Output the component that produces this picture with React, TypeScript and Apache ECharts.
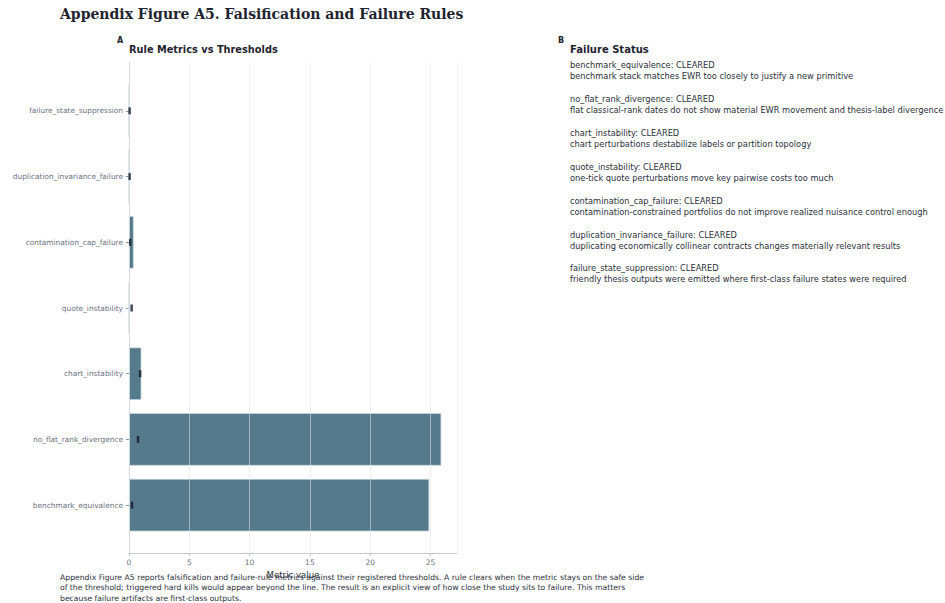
import React, { useEffect, useRef } from 'react';
import * as echarts from 'echarts';

const categories = [
  'benchmark_equivalence',
  'no_flat_rank_divergence',
  'chart_instability',
  'quote_instability',
  'contamination_cap_failure',
  'duplication_invariance_failure',
  'failure_state_suppression',
];
const metricValues = [24.9, 25.9, 1.03, 0.0, 0.39, 0.0, 0.0];
const thresholdValues = [0.25, 0.75, 0.92, 0.22, 0.1, 0.05, 0.05];
const xAxisMax = 27.2;
const xTickInterval = 5;

const statusRules = [
  'benchmark_equivalence',
  'no_flat_rank_divergence',
  'chart_instability',
  'quote_instability',
  'contamination_cap_failure',
  'duplication_invariance_failure',
  'failure_state_suppression',
];
const statusStates = ['CLEARED', 'CLEARED', 'CLEARED', 'CLEARED', 'CLEARED', 'CLEARED', 'CLEARED'];
const statusDescriptions = [
  'benchmark stack matches EWR too closely to justify a new primitive',
  'flat classical-rank dates do not show material EWR movement and thesis-label divergence',
  'chart perturbations destabilize labels or partition topology',
  'one-tick quote perturbations move key pairwise costs too much',
  'contamination-constrained portfolios do not improve realized nuisance control enough',
  'duplicating economically collinear contracts changes materially relevant results',
  'friendly thesis outputs were emitted where first-class failure states were required',
];
const captionLines = [
  'Appendix Figure A5 reports falsification and failure-rule metrics against their registered thresholds. A rule clears when the metric stays on the safe side',
  'of the threshold; triggered hard kills would appear beyond the line. The result is an explicit view of how close the study sits to failure. This matters',
  'because failure artifacts are first-class outputs.',
];

const SANS = '"DejaVu Sans", sans-serif';
const SERIF = '"DejaVu Serif", serif';

export default function App() {
  const ref = useRef<HTMLDivElement>(null);
  useEffect(() => {
    if (!ref.current) return;
    const chart = echarts.init(ref.current, null, { renderer: 'svg' });

    const graphics: any[] = [
      { type: 'text', x: 60, y: 14, style: { text: 'Appendix Figure A5. Falsification and Failure Rules', font: `bold 14px ${SERIF}`, fill: '#1f2330', verticalAlign: 'middle' } },
      { type: 'text', x: 117, y: 40, style: { text: 'A', font: `bold 8px ${SANS}`, fill: '#1f2330', verticalAlign: 'middle' } },
      { type: 'text', x: 129, y: 49, style: { text: 'Rule Metrics vs Thresholds', font: `bold 9.8px ${SANS}`, fill: '#1f2330', verticalAlign: 'middle' } },
      { type: 'text', x: 558, y: 40, style: { text: 'B', font: `bold 8px ${SANS}`, fill: '#1f2330', verticalAlign: 'middle' } },
      { type: 'text', x: 570, y: 49, style: { text: 'Failure Status', font: `bold 10px ${SANS}`, fill: '#1f2330', verticalAlign: 'middle' } },
    ];
    statusRules.forEach((r, i) => {
      const y0 = 65 + i * 33.9;
      graphics.push({ type: 'text', x: 570, y: y0, style: { text: `${r}: ${statusStates[i]}`, font: `8.25px ${SANS}`, fill: '#2a2f3a', verticalAlign: 'middle' } });
      graphics.push({ type: 'text', x: 570, y: y0 + 11, style: { text: statusDescriptions[i], font: `8.25px ${SANS}`, fill: '#2a2f3a', verticalAlign: 'middle' } });
    });
    captionLines.forEach((l, i) => {
      graphics.push({ type: 'text', x: 60, y: 577 + i * 10.5, style: { text: l, font: `7.7px ${SANS}`, fill: '#2a2f3a', verticalAlign: 'middle' } });
    });

    chart.setOption({
      animation: false,
      backgroundColor: '#ffffff',
      grid: [
        { left: 129, top: 62, width: 328, height: 491, containLabel: false },
        { left: 129, top: 78, width: 328, height: 460, containLabel: false },
      ],
      xAxis: [
        {
          gridIndex: 0, type: 'value', min: 0, max: xAxisMax, interval: xTickInterval, z: 5,
          name: 'Metric value', nameLocation: 'middle', nameGap: 15,
          nameTextStyle: { fontFamily: SANS, fontSize: 8.6, color: '#2a2f3a' },
          axisLine: { show: true, lineStyle: { color: '#c4c8ce', width: 1 } },
          axisTick: { show: true, length: 3, lineStyle: { color: '#c4c8ce' } },
          axisLabel: { fontFamily: SANS, fontSize: 7.5, color: '#6b7280', margin: 5, showMaxLabel: false },
          splitLine: { show: true, lineStyle: { color: 'rgba(225,228,232,0.55)', width: 1 } },
        },
        {
          gridIndex: 1, type: 'value', min: 0, max: xAxisMax, show: false,
          splitLine: { show: false },
        },
      ],
      yAxis: [
        {
          gridIndex: 0, type: 'value', min: 0, max: 1,
          axisLine: { show: true, lineStyle: { color: '#c4c8ce', width: 1 } },
          axisTick: { show: false }, axisLabel: { show: false }, splitLine: { show: false },
        },
        {
          gridIndex: 1, type: 'category', data: categories,
          axisLine: { show: false },
          axisTick: { show: true, alignWithLabel: true, length: 3, lineStyle: { color: '#8a919c' } },
          axisLabel: { fontFamily: SANS, fontSize: 7.4, color: '#6b7280', margin: 6 },
          splitLine: { show: false },
        },
      ],
      series: [
        {
          type: 'bar', xAxisIndex: 1, yAxisIndex: 1, data: metricValues,
          barCategoryGap: '20%', z: 2,
          itemStyle: { color: '#557a8c', borderColor: 'rgba(200,215,222,0.9)', borderWidth: 0.8 },
        },
        {
          type: 'scatter', xAxisIndex: 1, yAxisIndex: 1,
          data: thresholdValues.map((v, i) => [v, categories[i]]),
          symbol: 'rect', symbolSize: [2.5, 7], z: 10,
          itemStyle: { color: '#141c2b' },
        },
      ],
      graphic: graphics,
    });
    return () => chart.dispose();
  }, []);
  return <div ref={ref} style={{ position: 'fixed', left: 0, top: 0, width: 945, height: 603 }} />;
}
